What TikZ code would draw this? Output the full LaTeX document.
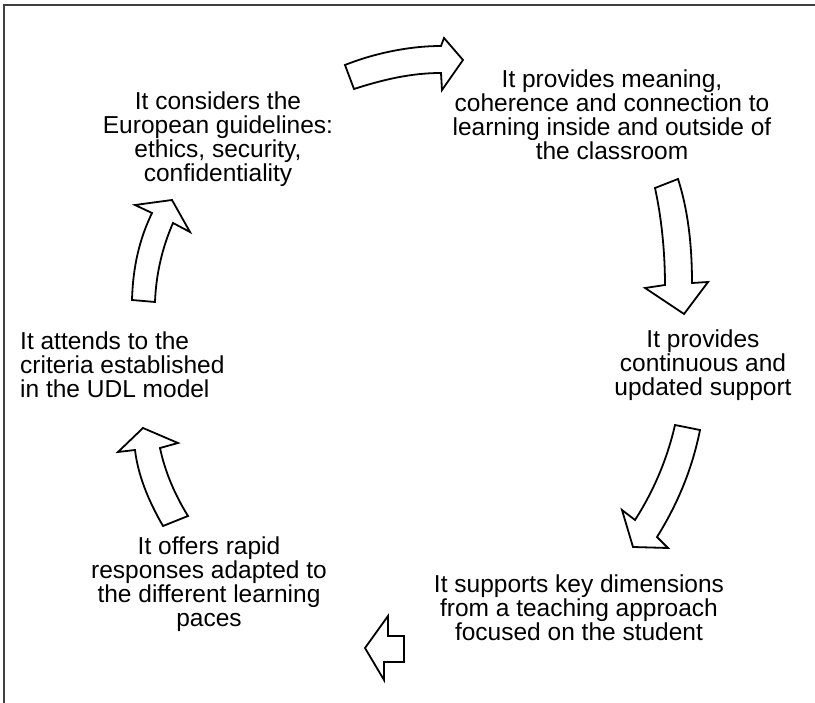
\documentclass[tikz,border=0pt]{standalone}
\usepackage{fontspec}
\setmainfont{Liberation Sans}
\begin{document}
\begin{tikzpicture}[x=1pt,y=-1pt,
  lbl/.style={inner sep=0pt,align=center,font=\fontsize{24.5}{24}\selectfont},
  blockarrow/.style={draw=black,fill=white,line width=1.8pt,line join=miter}]
\useasboundingbox (0,0) rectangle (815,703);
\draw[line width=1.6pt,black!75] (4,703) -- (4,5) -- (815,5);

\node[lbl] (guide) at (218,139) {It considers the\\European guidelines:\\ethics, security,\\confidentiality};
\node[lbl] (mean) at (612,115) {It provides meaning,\\coherence and connection to\\learning inside and outside of\\the classroom};
\node[lbl] (supp) at (703,365) {It provides\\continuous and\\updated support};
\node[lbl] (dims) at (579,608) {It supports key dimensions\\from a teaching approach\\focused on the student};
\node[lbl] (rapid) at (209,584) {It offers rapid\\responses adapted to\\the different learning\\paces};
\node[lbl,align=left,anchor=west] (udl) at (20,365) {It attends to the\\criteria established\\in the UDL model};

% arrow A (top, to the right)
\draw[blockarrow] (345,65) .. controls (375,53) and (410,46) .. (441,46) -- (444,38) -- (463,60) -- (442,90) -- (441,73) .. controls (410,73) and (382,80) .. (354,89) -- cycle;
% arrow B (right upper, down)
\draw[blockarrow] (655,188) .. controls (662,220) and (665,255) .. (665,285) -- (645,288) -- (684,314) -- (708,282) -- (692,283) .. controls (692,245) and (688,210) .. (678,179) -- cycle;
% arrow C (right lower, down-left)
\draw[blockarrow] (675,425) .. controls (667,460) and (653,492) .. (635,520) -- (622,510) -- (633,547) -- (668,548) -- (657,537) .. controls (677,505) and (692,470) .. (700,430) -- cycle;
% arrow D (bottom, left)
\draw[blockarrow] (365,648) -- (388,616) -- (388,636) -- (404,636) -- (404,662) -- (384,662) -- (384,680) -- cycle;
% arrow E (left lower, up)
\draw[blockarrow] (163,526) .. controls (148,500) and (138,475) .. (135,450) -- (118,452) -- (143,428) -- (178,443) -- (160,448) .. controls (165,472) and (175,495) .. (188,516) -- cycle;
% arrow F (left upper, up)
\draw[blockarrow] (132,300) .. controls (133,265) and (140,238) .. (152,213) -- (135,205) -- (172,200) -- (190,232) -- (173,223) .. controls (162,248) and (156,275) .. (155,302) -- cycle;
\end{tikzpicture}
\end{document}
